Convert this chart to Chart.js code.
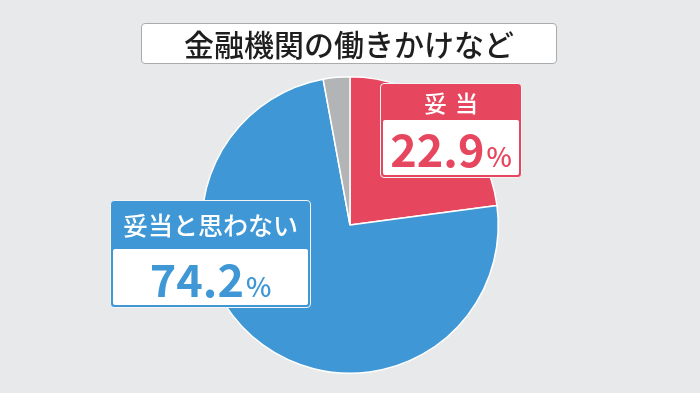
<!DOCTYPE html>
<html>
<head>
<meta charset="utf-8">
<script src="https://cdn.jsdelivr.net/npm/chart.js@4/dist/chart.umd.min.js"></script>
<style>
  html, body { margin: 0; padding: 0; }
  body { width: 700px; height: 393px; background: #e8e9eb; position: relative; overflow: hidden;
         font-family: "Noto Sans CJK JP", "Noto Sans", sans-serif; }
  #wrap { position: absolute; left: 0; top: 0; width: 700px; height: 393px; }
  #titulo { position: absolute; left: 141px; top: 23px; width: 416px; height: 41px; background: #fff;
            border: 1px solid #a9abad; border-radius: 4px; box-sizing: border-box;
            text-align: center; font-size: 30px; line-height: 38px; color: #1e1e1e; font-weight: 500; }
  .caixa { position: absolute; border-radius: 4px; box-sizing: border-box; padding: 0 2px 2px 2px;
           border: 1px solid #f4f4f4; }
  .cab { color: #fff; text-align: center; font-weight: 500; }
  .valor { background: #fff; border-radius: 2px; text-align: center; font-weight: 700; }
  .valor small { font-size: 27px; font-weight: 500; margin-left: 2px; }
</style>
</head>
<body>
<div id="wrap"><canvas id="grafico" width="700" height="393"></canvas></div>
<div id="titulo"></div>
<div id="caixaVermelha" class="caixa" style="left:380px; top:83px; width:142px; height:95px;">
  <div class="cab" style="height:36px; line-height:37px; font-size:23px; letter-spacing:8px; padding-left:8px;"></div>
  <div class="valor" style="height:55px; line-height:56px; font-size:45px;"></div>
</div>
<div id="caixaAzul" class="caixa" style="left:110px; top:200px; width:201px; height:108px;">
  <div class="cab" style="height:48px; line-height:47px; font-size:25px;"></div>
  <div class="valor" style="height:56px; line-height:58px; font-size:45px;"></div>
</div>
<script>
const titulo = "金融機関の働きかけなど";
const categorias = ["妥当", "妥当と思わない", "その他・わからない"];
const valores = [22.9, 74.2, 2.9];
const cores = ["#e6475f", "#3f98d5", "#b3b4b6"];

document.getElementById("titulo").innerText = titulo;

function preencherCaixa(id, i) {
    let caixa = document.getElementById(id);
    caixa.style.background = cores[i];
    caixa.querySelector(".cab").innerText = categorias[i];
    let v = caixa.querySelector(".valor");
    v.style.color = cores[i];
    v.innerHTML = valores[i].toFixed(1) + "<small>%</small>";
}
preencherCaixa("caixaVermelha", 0);
preencherCaixa("caixaAzul", 1);

const ctx = document.getElementById("grafico").getContext("2d");
new Chart(ctx, {
    type: "pie",
    data: {
        labels: categorias,
        datasets: [{
            data: valores,
            backgroundColor: cores,
            borderColor: "#ffffff",
            borderWidth: 1.5,
            hoverOffset: 0
        }]
    },
    options: {
        responsive: false,
        animation: false,
        layout: { padding: { top: 76, bottom: 19 } },
        plugins: {
            legend: { display: false },
            tooltip: { enabled: false }
        }
    }
});
</script>
</body>
</html>
